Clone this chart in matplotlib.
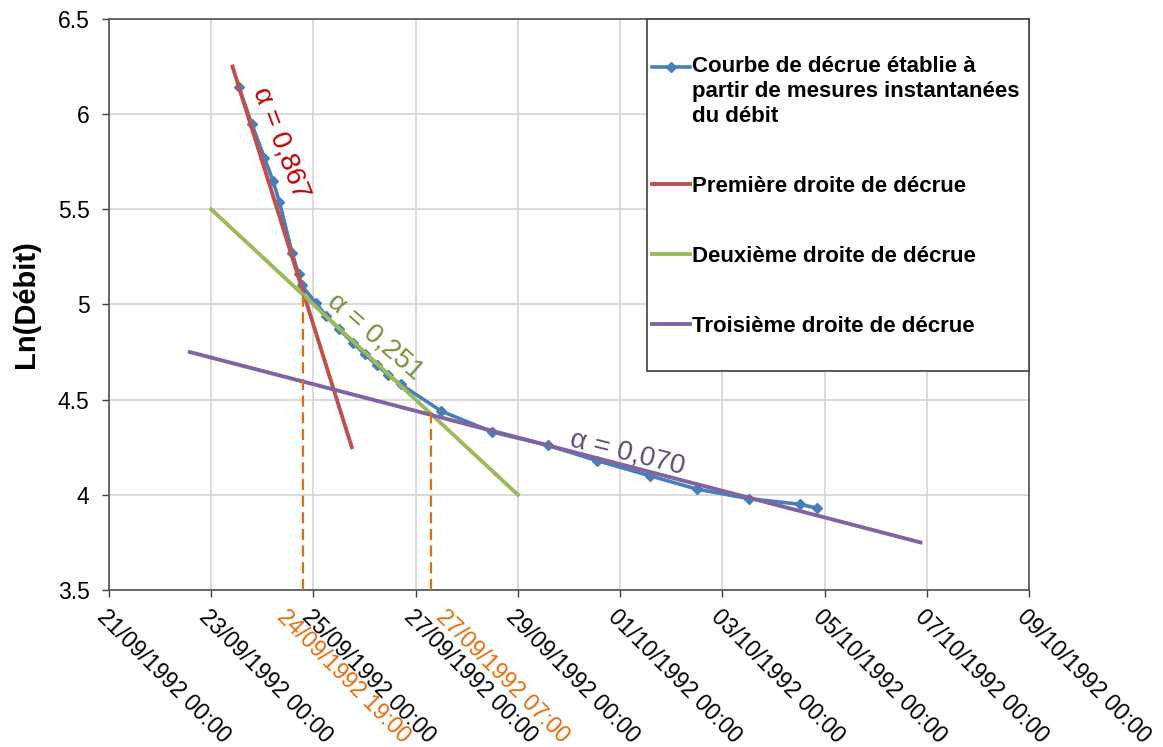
import matplotlib
matplotlib.use('Agg')
import matplotlib.pyplot as plt
import matplotlib.dates as mdates
import matplotlib.ticker as mticker
import matplotlib.transforms as mtransforms
from matplotlib.patches import Rectangle
from matplotlib.legend_handler import HandlerLine2D
import numpy as np
import pandas as pd

plt.rcParams['font.family'] = ['Liberation Sans', 'DejaVu Sans']

# --- courbe de décrue (mesures instantanées) ---
dates_mesures = ['1992-09-23 13:00', '1992-09-23 19:00', '1992-09-24 01:00', '1992-09-24 05:00',
                 '1992-09-24 08:00', '1992-09-24 14:00', '1992-09-24 17:00', '1992-09-24 18:30',
                 '1992-09-25 01:00', '1992-09-25 06:00', '1992-09-25 12:00', '1992-09-25 18:30',
                 '1992-09-26 00:00', '1992-09-26 06:00', '1992-09-26 11:00', '1992-09-26 17:00',
                 '1992-09-27 12:00', '1992-09-28 12:00', '1992-09-29 14:00', '1992-09-30 13:00',
                 '1992-10-01 14:00', '1992-10-02 12:00', '1992-10-03 12:30', '1992-10-04 12:30',
                 '1992-10-04 20:30']
ln_debit = [6.14, 5.95, 5.77, 5.65, 5.54, 5.27, 5.16, 5.10,
            5.01, 4.94, 4.87, 4.80, 4.74, 4.68, 4.63, 4.58,
            4.44, 4.33, 4.26, 4.18, 4.10, 4.03, 3.98, 3.95, 3.93]

# --- droites de décrue ---
d1_dates = ['1992-09-23 10:00', '1992-09-25 18:00']
d1_vals = [6.25, 4.25]
d2_dates = ['1992-09-23 00:00', '1992-09-29 00:00']
d2_vals = [5.50, 4.00]
d3_dates = ['1992-09-22 14:00', '1992-10-06 21:00']
d3_vals = [4.75, 3.75]

# --- points d'intersection ---
inter_dates = ['1992-09-24 19:00', '1992-09-27 07:00']
inter_vals = [5.07, 4.45]

# --- coefficients alpha ---
alpha_txt = ['α = 0,867', 'α = 0,251', 'α = 0,070']
alpha_dates = ['1992-09-24 08:30', '1992-09-26 05:00', '1992-10-01 03:30']
alpha_vals = [5.85, 4.83, 4.22]

labels = ['Courbe de décrue établie à\npartir de mesures instantanées\ndu débit',
          'Première droite de décrue',
          'Deuxième droite de décrue',
          'Troisième droite de décrue']

c_blue, c_red, c_green, c_purple = '#4A7EBB', '#C0504D', '#9BBB59', '#8064A2'
c_orange = '#E46C0A'


class HandlerTop(HandlerLine2D):
    # poignée alignée sur la première ligne du texte (comme Excel)
    def __init__(self, shift, **kw):
        super().__init__(**kw)
        self.shift = shift

    def create_artists(self, legend, orig_handle, xdescent, ydescent, width, height, fontsize, trans):
        arts = super().create_artists(legend, orig_handle, xdescent, ydescent, width, height,
                                      fontsize, trans)
        for a in arts:
            a.set_ydata(np.asarray(a.get_ydata()) + self.shift)
        return arts


fig = plt.figure(figsize=(11.63, 7.47), dpi=100)
ax = fig.add_axes([0.0937, 0.2102, 0.7911, 0.7644])

l0, = ax.plot(pd.to_datetime(dates_mesures), ln_debit, color=c_blue, lw=2.6, marker='D',
              markersize=5.5, zorder=3, label=labels[0])
l1, = ax.plot(pd.to_datetime(d1_dates), d1_vals, color=c_red, lw=2.8, zorder=4, label=labels[1])
l2, = ax.plot(pd.to_datetime(d2_dates), d2_vals, color=c_green, lw=2.8, zorder=4, label=labels[2])
l3, = ax.plot(pd.to_datetime(d3_dates), d3_vals, color=c_purple, lw=2.8, zorder=4, label=labels[3])

ax.vlines(pd.to_datetime(inter_dates), 3.5, inter_vals, colors=c_orange, linestyles=(0, (5, 2.5)),
          lw=1.6, zorder=5)

# textes alpha
for txt, d, v, rot, col in zip(alpha_txt, alpha_dates, alpha_vals, [-69, -41, -14],
                               ['#C00000', '#77933C', '#604A7B']):
    ax.text(mdates.date2num(pd.Timestamp(d)), v, txt, rotation=rot, color=col, fontsize=20,
            ha='center', va='center', rotation_mode='anchor', zorder=6)

# axes
ax.set_xlim(pd.Timestamp('1992-09-21'), pd.Timestamp('1992-10-09'))
ax.set_ylim(3.5, 6.5)
ax.xaxis.set_major_locator(mticker.FixedLocator(mdates.date2num(pd.date_range('1992-09-21', '1992-10-09', freq='2D'))))
ax.xaxis.set_major_formatter(mdates.DateFormatter('%d/%m/%Y %H:%M'))
ax.yaxis.set_major_locator(mticker.MultipleLocator(0.5))
ax.yaxis.set_major_formatter(mticker.FormatStrFormatter('%g'))

ax.tick_params(axis='both', which='major', direction='out', length=5, width=1, color='#404040',
               labelsize=16.5)
ax.tick_params(axis='y', pad=9)
ax.tick_params(axis='x', pad=6)
for lab in ax.get_xticklabels():
    lab.set_rotation(-45)
    lab.set_ha('left')
    lab.set_va('top')
    lab.set_rotation_mode('anchor')

# dates des intersections (en orange, sous l'axe)
for d, dx in zip(inter_dates, [-10, 12]):
    tr = mtransforms.blended_transform_factory(ax.transData, ax.transAxes) + \
        mtransforms.ScaledTranslation(dx / 72, -11 / 72, fig.dpi_scale_trans)
    ax.text(mdates.date2num(pd.Timestamp(d)), 0, pd.Timestamp(d).strftime('%d/%m/%Y %H:%M'),
            transform=tr, rotation=-45, ha='left', va='top', rotation_mode='anchor',
            fontsize=16.5, color=c_orange, clip_on=False)

for sp in ax.spines.values():
    sp.set_color('#505050')
    sp.set_linewidth(1.2)

ax.grid(True, color='#D4D4D4', lw=1.2)
ax.set_axisbelow(True)

ax.set_ylabel('Ln(Débit)', fontsize=21, fontweight='bold', labelpad=13)

# légende
ax.add_patch(Rectangle((0.585, 0.3835), 0.415, 0.6165, transform=ax.transAxes, fc='white',
                       ec='#404040', lw=1.2, zorder=7, clip_on=False))
leg = ax.legend(handles=[l0, l1, l2, l3], loc='upper left', bbox_to_anchor=(0.590, 0.935),
                frameon=False, borderpad=0, borderaxespad=0, handlelength=1.7, handletextpad=0.1,
                labelspacing=2.2, prop={'size': 16, 'weight': 'bold'},
                handler_map={l0: HandlerTop(18)})
leg.set_zorder(8)
leg.get_texts()[0].set_linespacing(1.25)

fig.savefig('out.png', dpi=100)
